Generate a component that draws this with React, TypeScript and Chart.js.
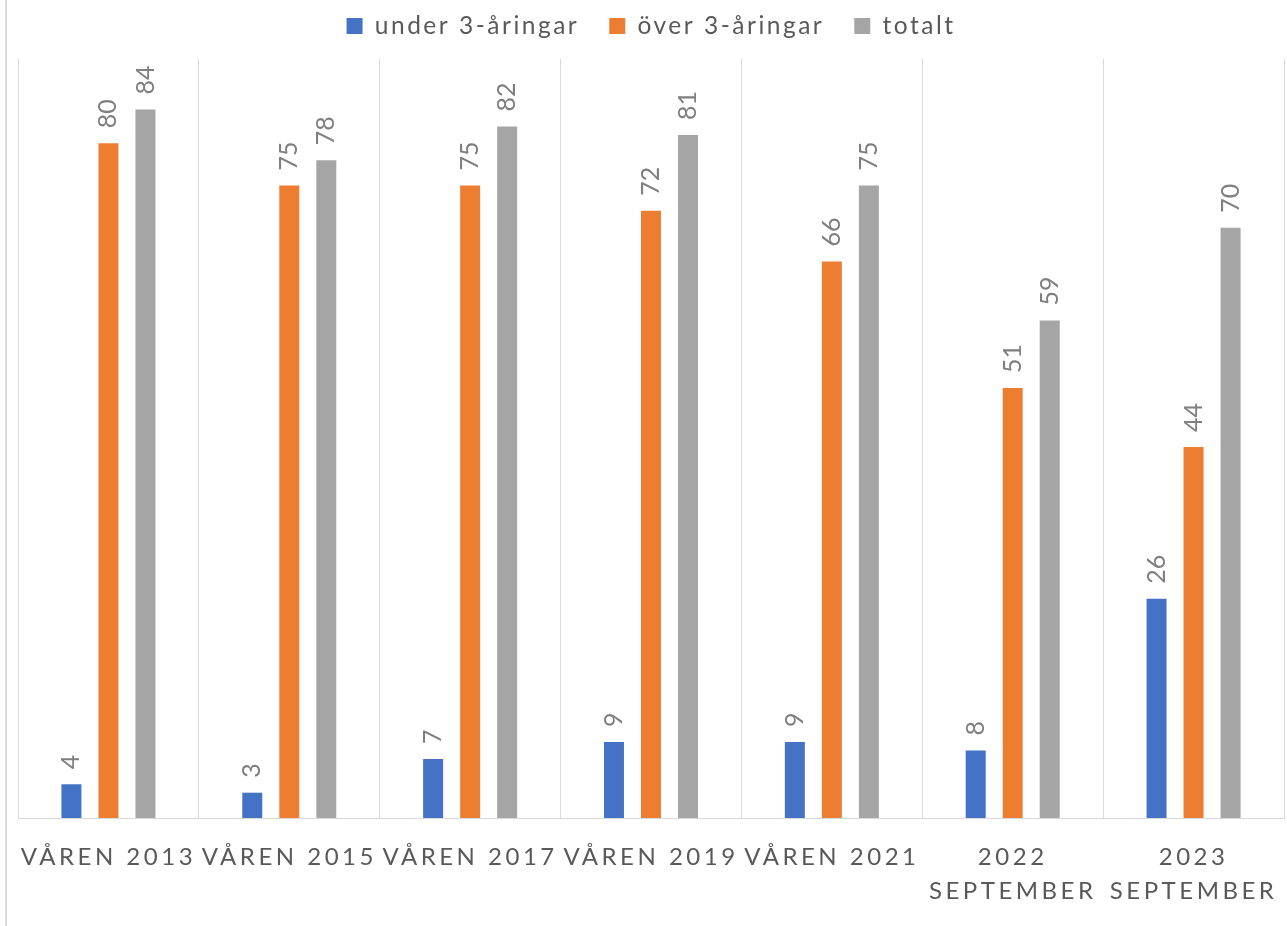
import React, { useEffect, useRef } from 'react';
import { Chart, registerables } from 'chart.js';

Chart.register(...registerables);

const categories: (string | string[])[] = [
  'VÅREN 2013',
  'VÅREN 2015',
  'VÅREN 2017',
  'VÅREN 2019',
  'VÅREN 2021',
  ['2022', 'SEPTEMBER'],
  ['2023', 'SEPTEMBER'],
];
const seriesNames = ['under 3-åringar', 'över 3-åringar', 'totalt'];
const underValues = [4, 3, 7, 9, 9, 8, 26];
const overValues = [80, 75, 75, 72, 66, 51, 44];
const totalValues = [84, 78, 82, 81, 75, 59, 70];
const seriesColors = ['#4472C4', '#ED7D31', '#A5A5A5'];
const yMax = 90;

const FONT = 'Lato';
const AXIS_SPACING = '3.5px';
const LEGEND_SPACING = '2.5px';

const decorPlugin = {
  id: 'decor',
  beforeLayout(chart: any) {
    chart.ctx.letterSpacing = AXIS_SPACING;
    const lg = chart.legend;
    if (lg && !lg.__patched) {
      const origFit = lg.fit;
      const origDraw = lg.draw;
      lg.fit = function () {
        const prev = this.ctx.letterSpacing;
        this.ctx.letterSpacing = LEGEND_SPACING;
        origFit.call(this);
        this.ctx.letterSpacing = prev;
        this.height += 10.75;
      };
      lg.draw = function () {
        const prev = this.ctx.letterSpacing;
        this.ctx.letterSpacing = LEGEND_SPACING;
        origDraw.call(this);
        this.ctx.letterSpacing = prev;
      };
      lg.__patched = true;
    }
  },
  afterLayout(chart: any) {
    chart.ctx.letterSpacing = '0px';
  },
  beforeDraw(chart: any) {
    const ctx = chart.ctx;
    ctx.save();
    ctx.fillStyle = '#dddddd';
    ctx.fillRect(5, 0, 2, chart.height);
    ctx.restore();
    ctx.letterSpacing = AXIS_SPACING;
  },
  beforeDatasetsDraw(chart: any) {
    chart.ctx.letterSpacing = '0px';
  },
  afterDatasetsDraw(chart: any) {
    const ctx = chart.ctx;
    ctx.save();
    ctx.letterSpacing = '0px';
    ctx.font = `25px ${FONT}`;
    ctx.fillStyle = '#7f7f7f';
    ctx.textAlign = 'left';
    ctx.textBaseline = 'middle';
    chart.data.datasets.forEach((ds: any, di: number) => {
      const meta = chart.getDatasetMeta(di);
      meta.data.forEach((bar: any, i: number) => {
        const { x, y } = bar.getProps(['x', 'y'], true);
        ctx.save();
        ctx.translate(x, y - 15);
        ctx.rotate(-Math.PI / 2);
        ctx.fillText(String(ds.data[i]), 0, 0);
        ctx.restore();
      });
    });
    ctx.restore();
  },
};

export default function App() {
  const canvasRef = useRef<HTMLCanvasElement | null>(null);

  useEffect(() => {
    if (!canvasRef.current) return;
    const values = [underValues, overValues, totalValues];
    const chart = new Chart(canvasRef.current, {
      type: 'bar',
      data: {
        labels: categories as any,
        datasets: seriesNames.map((name, i) => ({
          label: name,
          data: values[i],
          backgroundColor: seriesColors[i],
          borderWidth: 0,
          categoryPercentage: 0.614,
          barPercentage: 0.54,
        })),
      },
      options: {
        animation: false,
        responsive: false,
        layout: { autoPadding: false, padding: { top: -16.25, left: 18, right: 3, bottom: 18 } },
        plugins: {
          legend: {
            position: 'top',
            labels: {
              boxWidth: 16,
              boxHeight: 16,
              color: '#595959',
              padding: 30,
              font: { family: FONT, size: 24.5 },
            },
          },
          tooltip: { enabled: false },
        },
        scales: {
          x: {
            grid: {
              color: '#d9d9d9',
              drawTicks: true,
              tickLength: 22,
              tickColor: 'rgba(0,0,0,0)',
              offset: true,
            },
            border: { color: '#d9d9d9', width: 1 },
            ticks: {
              color: '#595959',
              font: { family: FONT, size: 24, lineHeight: '34px' } as any,
              padding: 0,
              maxRotation: 0,
              minRotation: 0,
              autoSkip: false,
            },
          },
          y: {
            display: false,
            min: 0,
            max: yMax,
          },
        },
      },
      plugins: [decorPlugin],
    });
    return () => chart.destroy();
  }, []);

  return (
    <div style={{ position: 'absolute', left: 0, top: 0, width: 1287, height: 926, background: '#fff' }}>
      <canvas ref={canvasRef} width={1287} height={926} style={{ display: 'block' }} />
    </div>
  );
}
